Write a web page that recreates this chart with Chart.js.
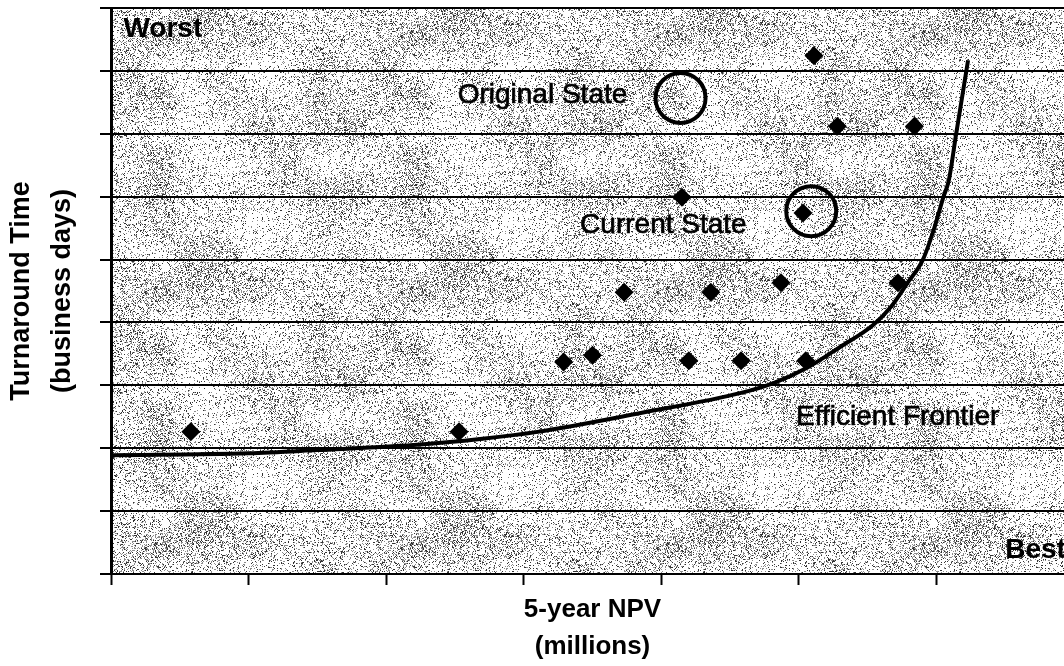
<!DOCTYPE html>
<html>
<head>
<meta charset="utf-8">
<script src="https://cdn.jsdelivr.net/npm/chart.js@4"></script>
<style>
html,body{margin:0;padding:0;background:#fff;overflow:hidden;width:1064px;height:666px}
#wrap{position:absolute;left:0;top:0;width:1090px;height:666px}
</style>
</head>
<body>
<div id="wrap"><canvas id="c" width="1090" height="666"></canvas></div>
<script>
// ---- data ----
const projectNPV = [0.58, 2.53, 3.29, 3.50, 3.73, 4.20, 4.36, 4.58, 4.87, 5.05, 5.72, 4.15, 5.03, 5.11, 5.28, 5.84];
const projectTAT = [2.26, 2.26, 3.37, 3.48, 4.48, 3.39, 4.48, 3.39, 4.63, 3.39, 4.63, 5.99, 5.74, 8.24, 7.12, 7.12];

const frontierNPV = [0, 1.0, 1.5, 2.2, 2.7, 3.1, 3.85, 4.58, 4.82, 5.06, 5.30, 5.54, 5.67, 5.79, 5.90, 5.98, 6.05, 6.09, 6.14, 6.23];
const frontierTAT = [1.89, 1.92, 1.97, 2.05, 2.15, 2.26, 2.56, 2.88, 3.04, 3.28, 3.61, 3.96, 4.25, 4.63, 4.99, 5.47, 5.99, 6.26, 6.95, 8.17];

const stateNames = ['Original State', 'Current State'];
const stateNPV = [4.14, 5.09];
const stateTAT = [7.57, 5.77];

const xTicks = [0, 1, 2, 3, 4, 5, 6, 7];
const yTicks = [0, 1, 2, 3, 4, 5, 6, 7, 8, 9];

const xTitle = ['5-year NPV', '(millions)'];
const yTitle = ['Turnaround Time', '(business days)'];

// ---- annotation texts (anchored in data coordinates) ----
const notes = [
  {text: 'Worst', x: 0.09, y: 8.54, bold: true},
  {text: 'Original State', x: 2.52, y: 7.49, bold: false},
  {text: 'Current State', x: 3.41, y: 5.42, bold: false},
  {text: 'Efficient Frontier', x: 4.98, y: 2.37, bold: false},
  {text: 'Best', x: 6.50, y: 0.25, bold: true}
];

const FONT = '"Liberation Sans", Arial, Helvetica, sans-serif';

function toPoints(xs, ys){ return xs.map((v,i)=>({x:v, y:ys[i]})); }

// deterministic stipple texture for the plot background
function makeTexture(){
  const s = 256, cv = document.createElement('canvas');
  cv.width = cv.height = s;
  const g = cv.getContext('2d');
  const img = g.createImageData(s, s);
  function h(x, y, seed){
    let n = Math.imul(x, 374761393) + Math.imul(y, 668265263) + Math.imul(seed, 1442695041);
    n = Math.imul(n ^ (n >>> 13), 1274126177);
    n = n ^ (n >>> 16);
    return (n >>> 0) / 4294967296;
  }
  const cell = 32, cells = s / cell;
  function cloud(x, y){
    const gx = x / cell, gy = y / cell;
    const x0 = Math.floor(gx), y0 = Math.floor(gy);
    const fx = gx - x0, fy = gy - y0;
    const sx = fx*fx*(3-2*fx), sy = fy*fy*(3-2*fy);
    const a = h(x0 % cells, y0 % cells, 7), b = h((x0+1) % cells, y0 % cells, 7);
    const c = h(x0 % cells, (y0+1) % cells, 7), d = h((x0+1) % cells, (y0+1) % cells, 7);
    return (a*(1-sx)+b*sx)*(1-sy) + (c*(1-sx)+d*sx)*sy;
  }
  for (let y = 0; y < s; y++){
    for (let x = 0; x < s; x++){
      const dens = 0.10 + 0.32 * cloud(x, y);
      let v = 255;
      if (h(x, y, 3) < dens) v = h(x, y, 5) < 0.4 ? 50 : 140;
      const i = (y*s + x) * 4;
      img.data[i] = img.data[i+1] = img.data[i+2] = v;
      img.data[i+3] = 255;
    }
  }
  g.putImageData(img, 0, 0);
  return cv;
}

const texturePlugin = {
  id: 'texture',
  beforeDraw(chart){
    const {ctx, chartArea: a} = chart;
    const pat = ctx.createPattern(makeTexture(), 'repeat');
    ctx.save();
    ctx.fillStyle = pat;
    ctx.fillRect(a.left, a.top, a.right - a.left, a.bottom - a.top);
    ctx.restore();
  }
};

const notesPlugin = {
  id: 'notes',
  afterDatasetsDraw(chart){
    const {ctx, scales} = chart;
    ctx.save();
    ctx.fillStyle = '#000';
    ctx.strokeStyle = '#000';
    ctx.lineWidth = 0.7;
    ctx.textAlign = 'left';
    ctx.textBaseline = 'alphabetic';
    notes.forEach(n => {
      ctx.font = (n.bold ? 'bold ' : '') + '28px ' + FONT;
      const px = scales.x.getPixelForValue(n.x), py = scales.y.getPixelForValue(n.y);
      ctx.fillText(n.text, px, py);
      if (!n.bold) ctx.strokeText(n.text, px, py);
    });
    ctx.restore();
  }
};

new Chart(document.getElementById('c'), {
  type: 'scatter',
  data: {
    datasets: [
      {
        label: 'Efficient Frontier',
        data: toPoints(frontierNPV, frontierTAT),
        showLine: true,
        borderColor: '#000',
        borderWidth: 4,
        pointRadius: 0,
        cubicInterpolationMode: 'monotone',
        fill: false
      },
      {
        label: 'Projects',
        data: toPoints(projectNPV, projectTAT),
        pointStyle: 'rectRot',
        pointRadius: 9.5,
        backgroundColor: '#000',
        borderColor: '#000',
        borderWidth: 0
      },
      {
        label: 'States',
        data: toPoints(stateNPV, stateTAT),
        pointStyle: 'circle',
        pointRadius: 25,
        backgroundColor: 'rgba(0,0,0,0)',
        borderColor: '#000',
        borderWidth: 4
      }
    ]
  },
  options: {
    responsive: false,
    animation: false,
    events: [],
    layout: {autoPadding: false, padding: {top: 8, right: 16, bottom: 0, left: 0}},
    plugins: {legend: {display: false}, tooltip: {enabled: false}},
    scales: {
      x: {
        type: 'linear',
        min: xTicks[0], max: xTicks[xTicks.length-1],
        afterBuildTicks(s){ s.ticks = xTicks.map(v => ({value: v})); },
        afterFit(s){ s.height = 92; },
        ticks: {display: false},
        grid: {drawOnChartArea: false, drawTicks: true, tickLength: 11, tickColor: '#000', tickWidth: 2},
        border: {display: true, color: '#000', width: 2},
        title: {display: true, text: xTitle, color: '#000',
          font: {family: FONT, size: 26, weight: 'bold', lineHeight: 1.42},
          padding: {top: 0, bottom: 1}}
      },
      y: {
        type: 'linear',
        min: yTicks[0], max: yTicks[yTicks.length-1],
        afterBuildTicks(s){ s.ticks = yTicks.map(v => ({value: v})); },
        afterFit(s){ s.width = 111; },
        ticks: {display: false},
        grid: {drawOnChartArea: true, color: '#000', lineWidth: 2, drawTicks: true, tickLength: 11, tickColor: '#000', tickWidth: 2},
        border: {display: true, color: '#000', width: 3},
        title: {display: true, text: yTitle, color: '#000',
          font: {family: FONT, size: 27, weight: 'bold', lineHeight: 1.52},
          padding: {top: 1, bottom: 0}}
      }
    }
  },
  plugins: [texturePlugin, notesPlugin]
});
</script>
</body>
</html>
